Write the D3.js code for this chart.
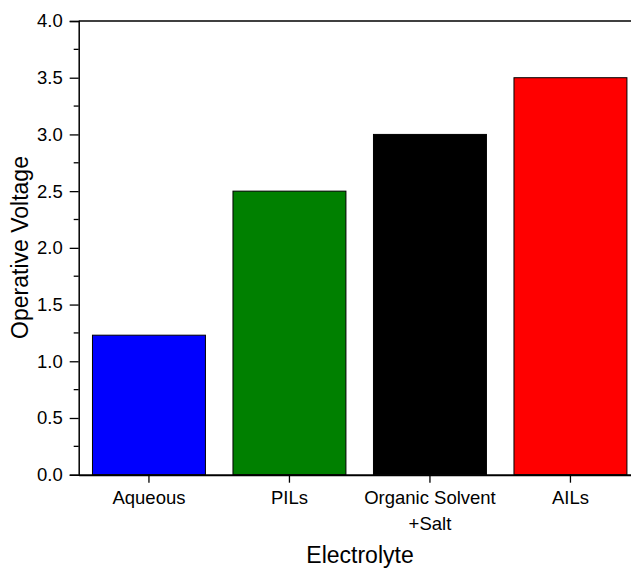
<!DOCTYPE html>
<html>
<head>
<meta charset="utf-8">
<script src="https://cdn.jsdelivr.net/npm/d3@7/dist/d3.min.js"></script>
<style>
  html, body { margin: 0; padding: 0; background: #fff; }
  svg { display: block; font-family: "Liberation Sans", Arial, sans-serif; }
</style>
</head>
<body>
<svg id="chart" width="631" height="568"></svg>
<script>
// Operative voltage window by electrolyte type
const categories = ["Aqueous", "PILs", "Organic Solvent\n+Salt", "AILs"];
const voltages = [1.23, 2.5, 3.0, 3.5];
const barColors = ["#0000ff", "#008000", "#000000", "#ff0000"];
const yTicks = [0, 0.5, 1.0, 1.5, 2.0, 2.5, 3.0, 3.5, 4.0];

const svg = d3.select("#chart");
const mLeft = 78.7, mTop = 21, mBottom = 474.7, mRight = 640.7;
const tickFont = 18.5, titleFont = 23;

const x = d3.scaleBand()
  .domain(categories)
  .range([mLeft, mRight])
  .paddingInner(0.196)
  .paddingOuter(0.098);

const y = d3.scaleLinear().domain([0, 4]).range([mBottom, mTop]);

// bars
svg.append("g").selectAll("rect")
  .data(categories)
  .join("rect")
  .attr("x", d => x(d))
  .attr("width", x.bandwidth())
  .attr("y", (d, i) => y(voltages[i]))
  .attr("height", (d, i) => y(0) - y(voltages[i]))
  .attr("fill", (d, i) => barColors[i])
  .attr("stroke", "#000")
  .attr("stroke-width", 1);

// y axis with major and minor ticks
const yAxis = svg.append("g").attr("transform", `translate(${mLeft},0)`);
yAxis.call(d3.axisLeft(y).tickValues(yTicks).tickFormat(d3.format(".1f")).tickSize(9).tickPadding(7))
  .call(g => g.select(".domain").attr("stroke-width", 1.5))
  .call(g => g.selectAll(".tick line").attr("stroke-width", 1.3))
  .call(g => g.selectAll(".tick text").attr("font-size", tickFont).attr("fill", "#000")
    .attr("font-family", "Liberation Sans, Arial, sans-serif"));
yAxis.selectAll(".minor")
  .data(d3.range(0.25, 4, 0.5))
  .join("line")
  .attr("class", "minor")
  .attr("x1", -5).attr("x2", 0)
  .attr("y1", d => y(d)).attr("y2", d => y(d))
  .attr("stroke", "#000").attr("stroke-width", 1.3);

// x axis
const xAxis = svg.append("g").attr("transform", `translate(0,${mBottom})`);
xAxis.call(d3.axisBottom(x).tickSize(8).tickPadding(8).tickSizeOuter(0))
  .call(g => g.select(".domain").attr("stroke-width", 2))
  .call(g => g.selectAll(".tick line").attr("stroke-width", 1.3));
xAxis.selectAll(".tick text").each(function(d) {
  const t = d3.select(this);
  const lines = d.split("\n");
  t.text(null).attr("font-size", tickFont).attr("fill", "#000")
    .attr("font-family", "Liberation Sans, Arial, sans-serif");
  lines.forEach((ln, i) => {
    t.append("tspan").attr("x", 0).attr("dy", i === 0 ? "0.71em" : "1.44em").text(ln);
  });
});

// top frame line
svg.append("line")
  .attr("x1", mLeft).attr("x2", mRight)
  .attr("y1", mTop).attr("y2", mTop)
  .attr("stroke", "#000").attr("stroke-width", 1.5);

// axis titles
svg.append("text")
  .attr("x", 360).attr("y", 563)
  .attr("text-anchor", "middle").attr("font-size", titleFont)
  .text("Electrolyte");
svg.append("text")
  .attr("transform", `translate(28,247.5) rotate(-90)`)
  .attr("text-anchor", "middle").attr("font-size", titleFont)
  .text("Operative Voltage");
</script>
</body>
</html>
